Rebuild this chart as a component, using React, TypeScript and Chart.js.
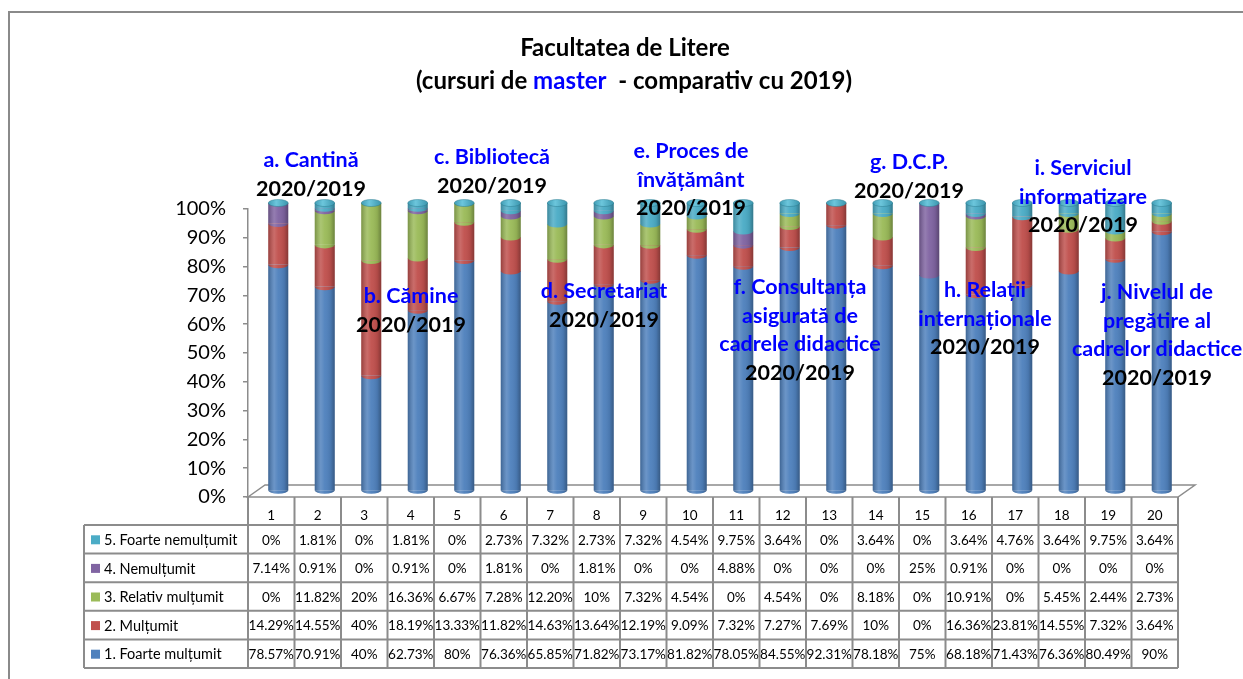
import React, { useEffect, useRef } from "react";
import { Chart, registerables } from "chart.js";

Chart.register(...registerables);

// ---------------- DATA ----------------
const categories = ["1", "2", "3", "4", "5", "6", "7", "8", "9", "10", "11", "12", "13", "14", "15", "16", "17", "18", "19", "20"];

const foarteMultumit = [78.57, 70.91, 40, 62.73, 80, 76.36, 65.85, 71.82, 73.17, 81.82, 78.05, 84.55, 92.31, 78.18, 75, 68.18, 71.43, 76.36, 80.49, 90];
const multumit = [14.29, 14.55, 40, 18.19, 13.33, 11.82, 14.63, 13.64, 12.19, 9.09, 7.32, 7.27, 7.69, 10, 0, 16.36, 23.81, 14.55, 7.32, 3.64];
const relativMultumit = [0, 11.82, 20, 16.36, 6.67, 7.28, 12.2, 10, 7.32, 4.54, 0, 4.54, 0, 8.18, 0, 10.91, 0, 5.45, 2.44, 2.73];
const nemultumit = [7.14, 0.91, 0, 0.91, 0, 1.81, 0, 1.81, 0, 0, 4.88, 0, 0, 0, 25, 0.91, 0, 0, 0, 0];
const foarteNemultumit = [0, 1.81, 0, 1.81, 0, 2.73, 7.32, 2.73, 7.32, 4.54, 9.75, 3.64, 0, 3.64, 0, 3.64, 4.76, 3.64, 9.75, 3.64];

const seriesNames = ["1. Foarte mulțumit", "2. Mulțumit", "3. Relativ mulțumit", "4. Nemulțumit", "5. Foarte nemulțumit"];
const seriesValues = [foarteMultumit, multumit, relativMultumit, nemultumit, foarteNemultumit];

const yMin = 0;
const yMax = 100;
const yStep = 10;

const titleLine1 = "Facultatea de Litere";
const titleLine2Parts = ["(cursuri de ", "master", "  - comparativ cu 2019)"];

const annotationTexts = [
  ["a. Cantină", "2020/2019"],
  ["b. Cămine", "2020/2019"],
  ["c. Bibliotecă", "2020/2019"],
  ["d. Secretariat", "2020/2019"],
  ["e. Proces de", "învățământ", "2020/2019"],
  ["f. Consultanța", "asigurată de", "cadrele didactice", "2020/2019"],
  ["g. D.C.P.", "2020/2019"],
  ["h. Relații", "internaționale", "2020/2019"],
  ["i. Serviciul", "informatizare", "2020/2019"],
  ["j. Nivelul de", "pregătire al", "cadrelor didactice", "2020/2019"],
];

// ---------------- STYLE / LAYOUT ----------------
const COLORS = ["#4F81BD", "#C0504D", "#9BBB59", "#8064A2", "#4BACC6"];
const GRID = "#8c8c8c";
const BLUE_TEXT = "#0000ff";
const FONT = "Lato, 'Open Sans', 'DejaVu Sans', sans-serif";
const DEPTH_X = 7;
const DEPTH_Y = -6;
const FLOOR_DX = 17;
const FLOOR_DY = 12;
const RY = 3.5;

// annotation text box centres (layout, pixels)
const annotationBoxes = [
  { x: 311, y: 160 },
  { x: 411, y: 296 },
  { x: 492, y: 157 },
  { x: 604, y: 291 },
  { x: 691, y: 151 },
  { x: 800, y: 287 },
  { x: 909, y: 162 },
  { x: 985, y: 290 },
  { x: 1083, y: 168 },
  { x: 1157, y: 292 },
];
const ANN_LINE_H = 28.6;

const TABLE_HEADER_H = 28;
const TABLE_ROW_H = 28.6;
const LEGEND_LEFT = 84;

function fmt(v: number): string {
  return (Number.isInteger(v) ? String(v) : v.toFixed(2)) + "%";
}

const excelPlugin = {
  id: "excel3d",
  beforeDraw(chart: any) {
    const { ctx, width, height } = chart;
    ctx.save();
    ctx.fillStyle = "#ffffff";
    ctx.fillRect(0, 0, width, height);
    // outer frame
    ctx.strokeStyle = "#8a8a8a";
    ctx.lineWidth = 2;
    ctx.beginPath();
    ctx.moveTo(9, height + 5);
    ctx.lineTo(9, 12);
    ctx.lineTo(width + 5, 12);
    ctx.stroke();
    // title
    ctx.fillStyle = "#000";
    ctx.font = `bold 24px ${FONT}`;
    ctx.textAlign = "center";
    ctx.textBaseline = "middle";
    ctx.fillText(titleLine1, 625, 48);
    const widths = titleLine2Parts.map((p) => ctx.measureText(p).width);
    const total = widths.reduce((a, b) => a + b, 0);
    let x = 634 - total / 2;
    ctx.textAlign = "left";
    titleLine2Parts.forEach((p, i) => {
      ctx.fillStyle = i === 1 ? BLUE_TEXT : "#000";
      ctx.fillText(p, x, 81);
      x += widths[i];
    });
    ctx.restore();
  },
  beforeDatasetsDraw(chart: any) {
    const { ctx, chartArea } = chart;
    ctx.save();
    ctx.strokeStyle = GRID;
    ctx.lineWidth = 1.5;
    ctx.beginPath();
    ctx.moveTo(chartArea.left, chartArea.bottom);
    ctx.lineTo(chartArea.left + FLOOR_DX, chartArea.bottom - FLOOR_DY);
    ctx.lineTo(chartArea.right + FLOOR_DX, chartArea.bottom - FLOOR_DY);
    ctx.lineTo(chartArea.right, chartArea.bottom);
    ctx.closePath();
    ctx.stroke();
    ctx.restore();
    ctx.save();
    ctx.translate(DEPTH_X, DEPTH_Y);
  },
  afterDatasetsDraw(chart: any) {
    const { ctx } = chart;
    const metas = seriesValues.map((_, i) => chart.getDatasetMeta(i));
    for (let j = 0; j < categories.length; j++) {
      let topY: number | null = null;
      let bottomY: number | null = null;
      let cx = 0;
      let w = 0;
      for (let i = 0; i < metas.length; i++) {
        const el = metas[i].data[j];
        const p = el.getProps(["x", "y", "base", "width"], true);
        cx = p.x;
        w = p.width;
        const h = p.base - p.y;
        if (h <= 0.3) continue;
        ctx.fillStyle = COLORS[i];
        ctx.beginPath();
        ctx.ellipse(p.x, p.base, p.width / 2, RY, 0, 0, Math.PI);
        ctx.fill();
        if (bottomY === null) bottomY = p.base;
        topY = p.y;
      }
      if (topY === null || bottomY === null) continue;
      // cylinder shading
      const g = ctx.createLinearGradient(cx - w / 2, 0, cx + w / 2, 0);
      g.addColorStop(0, "rgba(0,0,0,0.22)");
      g.addColorStop(0.3, "rgba(255,255,255,0.16)");
      g.addColorStop(0.5, "rgba(255,255,255,0.04)");
      g.addColorStop(0.8, "rgba(0,0,0,0.08)");
      g.addColorStop(1, "rgba(0,0,0,0.3)");
      ctx.fillStyle = g;
      ctx.beginPath();
      ctx.moveTo(cx - w / 2, topY);
      ctx.lineTo(cx - w / 2, bottomY);
      ctx.ellipse(cx, bottomY, w / 2, RY, 0, Math.PI, 0, true);
      ctx.lineTo(cx + w / 2, topY);
      ctx.closePath();
      ctx.fill();
      // top cap
      const cg = ctx.createLinearGradient(cx - w / 2, 0, cx + w / 2, 0);
      cg.addColorStop(0, "#3f9cb4");
      cg.addColorStop(0.4, "#6cc6dc");
      cg.addColorStop(1, "#3a95ad");
      ctx.fillStyle = cg;
      ctx.beginPath();
      ctx.ellipse(cx, topY, w / 2, RY, 0, 0, Math.PI * 2);
      ctx.fill();
      ctx.strokeStyle = "rgba(40,120,140,0.6)";
      ctx.lineWidth = 0.8;
      ctx.stroke();
    }
    ctx.restore();
  },
  afterDraw(chart: any) {
    const { ctx, chartArea } = chart;
    const xs = chart.scales.x;
    const n = categories.length;
    const colW = xs.getPixelForValue(1) - xs.getPixelForValue(0);
    const left = xs.getPixelForValue(0) - colW / 2;
    const right = left + colW * n;
    const headTop = chartArea.bottom;
    const rowsTop = headTop + TABLE_HEADER_H;
    const rowsBottom = rowsTop + TABLE_ROW_H * seriesValues.length;

    ctx.save();
    ctx.strokeStyle = GRID;
    ctx.lineWidth = 2;
    ctx.beginPath();
    for (let k = 0; k <= n; k++) {
      const x = left + k * colW;
      ctx.moveTo(x, headTop);
      ctx.lineTo(x, rowsBottom);
    }
    ctx.moveTo(LEGEND_LEFT, rowsTop);
    ctx.lineTo(LEGEND_LEFT, rowsBottom);
    for (let r = 0; r <= seriesValues.length; r++) {
      const y = rowsTop + r * TABLE_ROW_H;
      ctx.moveTo(LEGEND_LEFT, y);
      ctx.lineTo(right, y);
    }
    ctx.stroke();

    ctx.fillStyle = "#000";
    ctx.font = `13.5px ${FONT}`;
    ctx.textBaseline = "middle";
    ctx.textAlign = "center";
    for (let k = 0; k < n; k++) {
      ctx.fillText(categories[k], xs.getPixelForValue(k), headTop + 19);
    }
    const order = [4, 3, 2, 1, 0];
    order.forEach((si, r) => {
      const yMid = rowsTop + r * TABLE_ROW_H + TABLE_ROW_H / 2 + 1;
      ctx.fillStyle = COLORS[si];
      ctx.fillRect(LEGEND_LEFT + 7, yMid - 5, 9, 9);
      ctx.fillStyle = "#000";
      ctx.textAlign = "left";
      ctx.font = `14.5px ${FONT}`;
      ctx.fillText(seriesNames[si], LEGEND_LEFT + 20, yMid);
      ctx.font = `13.5px ${FONT}`;
      ctx.textAlign = "center";
      for (let k = 0; k < n; k++) {
        ctx.fillText(fmt(seriesValues[si][k]), xs.getPixelForValue(k), yMid);
      }
    });

    // annotations
    ctx.font = `bold 21.5px ${FONT}`;
    ctx.textAlign = "center";
    ctx.textBaseline = "middle";
    annotationTexts.forEach((lines, a) => {
      const box = annotationBoxes[a];
      lines.forEach((t, li) => {
        ctx.fillStyle = li === lines.length - 1 ? "#000" : BLUE_TEXT;
        ctx.fillText(t, box.x, box.y + li * ANN_LINE_H);
      });
    });
    ctx.restore();
  },
};

export default function App() {
  const ref = useRef<HTMLCanvasElement | null>(null);
  useEffect(() => {
    if (!ref.current) return;
    const chart = new Chart(ref.current, {
      type: "bar",
      data: {
        labels: categories,
        datasets: seriesValues.map((vals, i) => ({
          label: seriesNames[i],
          data: vals,
          backgroundColor: COLORS[i],
          borderWidth: 0,
          barPercentage: 0.43,
          categoryPercentage: 1,
          clip: false as any,
        })),
      },
      options: {
        responsive: false,
        animation: false,
        devicePixelRatio: 1,
        layout: { padding: { left: 0, right: 65, top: 209, bottom: 182 } },
        plugins: {
          legend: { display: false },
          tooltip: { enabled: false },
          title: { display: false },
        },
        scales: {
          x: { stacked: true, display: false, offset: true },
          y: {
            stacked: true,
            min: yMin,
            max: yMax,
            afterFit: (scale: any) => {
              scale.width = 248;
            },
            ticks: {
              stepSize: yStep,
              padding: 17,
              color: "#000",
              font: { family: FONT, size: 20 },
              callback: (v: any) => v + "%",
            },
            grid: { drawOnChartArea: false, drawTicks: true, tickLength: 5, color: GRID, lineWidth: 1.5 },
            border: { display: true, color: GRID, width: 1.5 },
          },
        },
      },
      plugins: [excelPlugin],
    });
    return () => chart.destroy();
  }, []);
  return (
    <div style={{ position: "fixed", left: 0, top: 0, width: 1243, height: 679, background: "#fff" }}>
      <canvas ref={ref} width={1243} height={679} style={{ display: "block", width: 1243, height: 679 }} />
    </div>
  );
}
